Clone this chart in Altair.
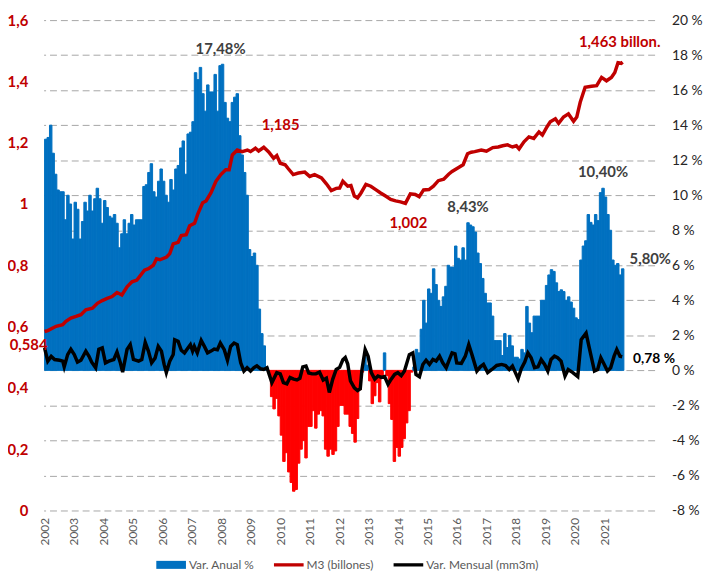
import altair as alt
import pandas as pd

# ---------------- data ----------------
years = list(range(2002, 2022))

# Var. Anual % of M3, monthly from Jan 2002 to Aug 2021
var_anual = [
    # 2002
    13.2, 13.3, 14.0, 12.4, 11.2, 10.3, 10.2, 10.2, 8.6, 10.0, 9.5, 7.5,
    # 2003
    9.6, 9.2, 7.5, 8.5, 9.6, 9.1, 10.0, 9.1, 9.8, 10.4, 9.8, 8.4,
    # 2004
    9.7, 9.3, 8.8, 8.7, 8.9, 8.4, 7.0, 7.8, 8.6, 7.8, 8.4, 8.9,
    # 2005
    8.3, 8.6, 8.6, 8.6, 10.5, 10.6, 11.3, 11.8, 10.2, 9.9, 10.8, 11.5,
    # 2006
    10.8, 10.0, 9.6, 10.9, 10.3, 11.5, 11.7, 12.7, 13.1, 11.2, 13.5, 13.6,
    # 2007
    14.2, 17.0, 16.6, 17.3, 15.8, 14.8, 16.3, 15.9, 15.9, 16.9, 14.8, 17.4,
    # 2008
    17.48, 15.3, 14.4, 14.2, 15.3, 15.6, 15.8, 13.4, 12.3, 11.3, 10.0, 6.9,
    # 2009
    6.5, 6.7, 6.0, 3.5, 2.1, 1.4, 0.2, -0.1, -1.5, -2.2, -1.6, -2.6,
    # 2010
    -3.7, -5.2, -4.7, -5.8, -6.4, -6.9, -6.8, -5.3, -4.5, -4.0, -5.0, -3.2,
    # 2011
    -3.2, -2.3, -3.3, -2.5, -2.3, -2.6, -4.5, -4.9, -4.5, -4.8, -4.6, -3.2,
    # 2012
    -2.0, -2.0, -2.5, -2.5, -3.2, -3.6, -4.1, -2.75, -1.1, -0.1, 0.8, 0.3,
    # 2013
    -0.6, -1.9, -1.45, -0.7, -1.8, -0.4, 1.0, -0.3, -1.9, -2.8, -5.2, -4.4,
    # 2014
    -4.9, -4.4, -3.9, -3.0, -2.3, -0.1, 0.2, 1.2, 1.0, 2.35, 4.0, 2.7,
    # 2015
    4.65, 4.4, 5.8, 4.9, 4.0, 3.65, 4.2, 4.8, 6.0, 5.9, 5.9, 7.1,
    # 2016
    6.4, 6.3, 7.0, 6.3, 8.43, 8.3, 8.2, 7.9, 6.7, 6.1, 5.25, 4.4,
    # 2017
    3.85, 3.85, 3.1, 1.7, 1.7, 1.7, 0.85, 2.1, 1.3, 2.0, 1.4, 0.75,
    # 2018
    0.75, 0.65, 1.2, 1.0, 3.65, 2.7, 2.15, 3.1, 3.1, 3.1, 4.0, 4.0,
    # 2019
    4.85, 5.45, 5.75, 5.65, 5.0, 4.5, 4.6, 4.5, 4.0, 4.2, 3.9, 3.55,
    # 2020
    3.0, 2.9, 6.3, 7.1, 7.4, 8.9, 8.45, 8.3, 8.9, 8.55, 10.15, 10.4,
    # 2021
    9.9, 8.9, 8.0, 6.3, 6.0, 6.1, 5.45, 5.8,
]

# M3 (billones of euros): (months since Jan 2002, value)
m3_points = [
    (0, 0.584), (1.3, 0.587), (4.7, 0.601), (7.4, 0.606), (8.7, 0.617), (10.7, 0.628),
    (12.8, 0.633), (14.8, 0.639), (16.8, 0.655), (19.5, 0.660), (21.5, 0.676), (23.5, 0.685),
    (25.5, 0.692), (27.5, 0.698), (29.5, 0.711), (31.5, 0.703), (33.6, 0.730), (35.6, 0.746),
    (37.6, 0.752), (40.7, 0.784), (42.3, 0.789), (44.3, 0.800), (45.6, 0.821), (47, 0.818),
    (49.7, 0.827), (51, 0.838), (52.4, 0.870), (54.4, 0.875), (55.7, 0.897), (57.7, 0.900),
    (59.1, 0.929), (61.1, 0.937), (62.4, 0.967), (64.4, 1.004), (65.8, 1.010), (67.8, 1.037),
    (69.8, 1.074), (71.8, 1.096), (73.8, 1.112), (75.2, 1.112), (76.5, 1.160), (78.5, 1.176),
    (80.5, 1.171), (82.6, 1.176), (83.9, 1.171), (85.9, 1.182), (87.2, 1.173), (89.3, 1.185),
    (91.3, 1.170), (93.3, 1.149), (94.6, 1.158), (96, 1.133), (98, 1.128), (99.3, 1.115),
    (101.3, 1.096), (103.4, 1.101), (106, 1.104), (108, 1.090), (110, 1.096), (112.8, 1.085),
    (114.8, 1.066), (116.8, 1.044), (118.8, 1.051), (120.2, 1.052), (121.5, 1.074), (123.5, 1.058),
    (124.8, 1.060), (126.2, 1.026), (127.5, 1.020), (128.9, 1.036), (130.9, 1.064), (132.9, 1.058),
    (134.9, 1.047), (136.9, 1.036), (138.9, 1.026), (141, 1.015), (143, 1.010), (145, 1.007),
    (147, 1.002), (149, 1.033), (151, 1.031), (152.6, 1.024), (154.4, 1.046), (156.6, 1.047),
    (158.4, 1.058), (160.4, 1.076), (162.6, 1.081), (164.6, 1.097), (166, 1.106), (168.5, 1.118),
    (170.5, 1.128), (172.3, 1.164), (173.8, 1.169), (175.2, 1.171), (177.9, 1.176), (180, 1.172),
    (182.6, 1.184), (184.8, 1.186), (186.6, 1.190), (188.6, 1.193), (190.6, 1.186), (192.2, 1.190),
    (193.3, 1.180), (195.3, 1.203), (197.3, 1.219), (199.3, 1.214), (201.4, 1.235), (202.8, 1.225),
    (204.7, 1.252), (206, 1.268), (208.1, 1.278), (209.4, 1.263), (211.4, 1.284), (213.4, 1.294),
    (215.5, 1.270), (216.8, 1.284), (218.2, 1.332), (220.2, 1.381), (222.8, 1.384), (224.9, 1.386),
    (226.9, 1.413), (228.9, 1.402), (230.9, 1.413), (232.3, 1.429), (233.6, 1.461), (234.9, 1.459),
    (235.5, 1.463),
]

# Var. Mensual (mm3m) %: (months since Jan 2002, value)
mensual_points = [
    (0, 1.28), (1.3, 0.53), (2.7, 0.8), (4.1, 0.62), (6.1, 0.58), (7.4, 0.53), (8.0, 0.2),
    (9.4, 0.9), (10.7, 1.2), (12.1, 0.9), (13.4, 0.47), (14.8, 0.58), (16.8, 1.1), (18.1, 0.8),
    (19.2, 0.47), (20.8, 0.15), (22.1, 1.2), (23.5, 1.28), (24.8, 0.43), (26.2, 0.53), (28.2, 0.62),
    (29.5, 1.05), (30.8, 0.47), (31.8, -0.1), (33.6, 1.2), (34.9, 1.47), (36.2, 0.62), (38.3, 0.53),
    (39.6, 0.62), (41.0, 1.6), (42.3, 1.1), (43.6, 0.43), (45.0, 0.7), (46.3, 1.37), (47.6, 1.1),
    (48.7, 0.34), (49.6, -0.13), (51.0, 0.53), (52.4, 0.9), (53.0, 1.75), (54.4, 1.66), (55.7, 1.15),
    (57.0, 1.0), (58.4, 1.28), (59.4, 1.47), (60.3, 1.1), (61.0, 1.37), (62.2, 1.0), (63.8, 1.71),
    (65.1, 1.37), (66.4, 1.0), (67.8, 1.1), (69.1, 1.22), (70.4, 1.18), (71.6, 1.56), (73.2, 1.18),
    (74.5, 0.58), (75.8, 1.37), (77.2, 1.56), (78.5, 1.47), (79.9, 0.43), (81.2, -0.04), (82.5, 0.15),
    (83.9, -0.04), (85.2, 0.15), (86.5, 0.26), (88.0, 0.09), (89.3, 0.05), (90.6, 0.15), (92.6, -0.7),
    (94.6, -0.13), (96.0, -0.2), (97.3, -0.7), (98.7, -0.77), (100.0, -0.41), (101.5, -0.5),
    (102.8, -0.55), (104.0, -0.45), (105.2, 0.2), (106.5, 0.25), (107.6, -0.15), (109.0, -0.2),
    (110.5, -0.2), (112.0, -0.1), (113.5, -0.55), (114.8, -0.45), (116.0, -1.26), (117.4, -0.5),
    (118.8, 0.05), (120.2, 0.17), (121.5, 0.6), (122.5, 0.73), (123.5, 0.36), (124.6, -0.6),
    (126.2, -1.0), (127.5, -1.15), (128.6, -1.05), (129.3, 0.05), (130.6, 1.19), (131.8, 0.8),
    (133.1, -0.13), (134.5, -0.5), (135.8, -0.32), (137.2, -0.4), (138.5, -0.35), (139.9, -0.79),
    (141.2, -0.5), (142.6, -0.23), (143.9, -0.13), (145.3, -0.3), (146.6, -0.04), (148.6, 0.9),
    (150.0, 1.0), (151.3, -0.23), (152.7, -0.36), (154.1, 0.34), (155.4, 0.58), (156.8, 0.34),
    (158.2, 0.62), (159.5, 0.53), (160.9, 0.81), (162.2, 0.43), (163.6, 0.15), (164.9, 0.62),
    (166.0, 1.0), (167.2, 0.95), (167.9, 0.43), (169.8, 0.4), (171.4, 0.81), (172.8, 1.47),
    (174.1, 0.9), (176.1, -0.04), (177.5, 0.2), (178.8, 0.34), (180.5, -0.13), (182.2, 0.05),
    (184.2, 0.28), (186.2, 0.34), (187.8, 0.28), (189.3, 0.05), (190.6, 0.25), (192.9, -0.47),
    (194.2, 0.1), (195.6, 0.47), (196.9, 1.0), (198.2, 0.72), (199.6, 0.15), (201.0, 0.2),
    (202.3, 0.62), (203.7, 0.34), (205.0, -0.04), (206.3, 0.62), (207.7, 0.81), (209.0, 0.72),
    (210.4, 0.53), (212.0, -0.32), (213.3, 0.05), (215.2, -0.13), (217.2, -0.36), (218.6, 1.75),
    (220.6, 2.13), (221.9, 1.28), (224.0, -0.04), (225.3, 0.05), (226.6, 0.72), (228.0, 0.34),
    (229.3, -0.04), (230.6, 0.15), (232.0, 0.81), (233.1, 1.19), (234.4, 0.81), (235.3, 0.78),
]

legend_labels = ["Var. Anual %", "M3 (billones)", "Var. Mensual (mm3m)"]
pct_ticks = list(range(-8, 21, 2))
m3_ticks = [0, 0.2, 0.4, 0.6, 0.8, 1.0, 1.2, 1.4, 1.6]

# ---------------- styling ----------------
FONT = "Lato"
BLUE = "#0070C0"
RED_BAR = "#FF0000"
RED_LINE = "#C00000"
GREY_TXT = "#404040"

bars_df = pd.DataFrame({"m": list(range(len(var_anual))), "v": var_anual})
m3_df = pd.DataFrame(m3_points, columns=["m", "v"])
men_df = pd.DataFrame(mensual_points, columns=["m", "v"])

x_scale = alt.Scale(domain=[-0.4, 248.5], nice=False, zero=False)
pct_scale = alt.Scale(domain=[-8, 20], nice=False, zero=False)
m3_scale = alt.Scale(domain=[0, 1.6], nice=False, zero=False)

x_axis = alt.Axis(
    values=[12 * (y - years[0]) for y in years],
    labelExpr=f"'' + ({years[0]} + round(datum.value / 12))",
    labelAngle=270, labelFontSize=12, labelColor="#595959",
    ticks=False, domain=False, grid=False, labelPadding=7, title=None,
)
X = alt.X("m:Q", scale=x_scale, axis=x_axis)

bars = alt.Chart(bars_df).transform_calculate(m2="datum.m + 1").mark_bar(strokeWidth=1).encode(
    x=X,
    x2="m2:Q",
    y=alt.Y("v:Q", scale=pct_scale, axis=alt.Axis(
        orient="right", values=pct_ticks, labelExpr="datum.value + ' %'",
        grid=True, gridDash=[7, 4], gridColor="#A6A6A6", gridWidth=1,
        ticks=False, domain=False, labelFontSize=14, labelColor="#262626",
        labelPadding=17, labelAlign="left", title=None)),
    y2=alt.datum(0),
    color=alt.condition("datum.v >= 0", alt.value(BLUE), alt.value(RED_BAR)),
    stroke=alt.condition("datum.v >= 0", alt.value(BLUE), alt.value(RED_BAR)),
)

m3_line = alt.Chart(m3_df).mark_line(color=RED_LINE, strokeWidth=3.5).encode(
    x=X,
    y=alt.Y("v:Q", scale=m3_scale, axis=alt.Axis(
        orient="left", values=m3_ticks,
        labelExpr="replace(format(datum.value, '.1~f'), '.', ',')",
        labelColor=RED_LINE, labelFontWeight="bold", labelFontSize=15,
        labelPadding=16, ticks=False, domain=False, grid=False, title=None)),
)

men_line = alt.Chart(men_df).mark_line(color="#000000", strokeWidth=3.5).encode(
    x=X,
    y=alt.Y("v:Q", scale=pct_scale, axis=None),
)


def note(m, v, text, scale, color, dx, dy, align="center", size=15):
    df = pd.DataFrame({"m": [m], "v": [v], "t": [text]})
    return alt.Chart(df).mark_text(
        color=color, fontWeight="bold", fontSize=size, align=align,
        baseline="middle", dx=dx, dy=dy,
    ).encode(x=X, y=alt.Y("v:Q", scale=scale, axis=None), text="t:N")


def es(v, d):
    return f"{v:.{d}f}".replace(".", ",")


# anchors taken from the data
i_max = max(range(len(var_anual)), key=lambda i: var_anual[i])
i_16 = max(range(156, 192), key=lambda i: var_anual[i])
i_20 = max(range(216, len(var_anual)), key=lambda i: var_anual[i])
i_last = len(var_anual) - 1
m3_peak = max([p for p in m3_points if p[0] < 110], key=lambda p: p[1])
m3_min = min([p for p in m3_points if 110 < p[0] < 180], key=lambda p: p[1])
m3_first = m3_points[0]
m3_last = m3_points[-1]
men_last = mensual_points[-1]

notes = [
    note(i_max + 0.5, var_anual[i_max], es(var_anual[i_max], 2) + "%", pct_scale, GREY_TXT, -2, -15),
    note(i_16 + 0.5, var_anual[i_16], es(var_anual[i_16], 2) + "%", pct_scale, GREY_TXT, 0, -16),
    note(i_20 + 0.5, var_anual[i_20], es(var_anual[i_20], 2) + "%", pct_scale, GREY_TXT, 0, -16),
    note(i_last + 0.5, var_anual[i_last], es(var_anual[i_last], 2) + "%", pct_scale, GREY_TXT, 7, -10, align="left"),
    note(men_last[0], men_last[1], es(men_last[1], 2) + " %", pct_scale, "#000000", 11, 2, align="left", size=14),
    note(m3_peak[0], m3_peak[1], es(m3_peak[1], 3), m3_scale, RED_LINE, 17, -22),
    note(m3_min[0], m3_min[1], es(m3_min[1], 3), m3_scale, RED_LINE, 3, 20),
    note(m3_last[0], m3_last[1], es(m3_last[1], 3) + " billon.", m3_scale, RED_LINE, -3, -20),
    note(m3_first[0], m3_first[1], es(m3_first[1], 3), m3_scale, RED_LINE, 3, 14, align="right"),
]

RECT = "M-1,-0.27H1V0.27H-1Z"
LINE = "M-1,-0.11H1V0.11H-1Z"
leg = alt.Legend(
    title=None, orient="none", legendX=114, legendY=536, direction="horizontal",
    symbolSize=900, symbolStrokeWidth=0, labelFontSize=12, labelColor="#595959",
    labelOffset=3, columnPadding=20, labelFont=FONT,
)
legend_layer = alt.Chart(pd.DataFrame({"serie": legend_labels})).mark_point(
    filled=True, opacity=1, size=10
).encode(
    x=alt.value(-3000),
    y=alt.value(-3000),
    color=alt.Color("serie:N", scale=alt.Scale(domain=legend_labels, range=[BLUE, RED_LINE, "#000000"]), legend=leg),
    shape=alt.Shape("serie:N", scale=alt.Scale(domain=legend_labels, range=[RECT, LINE, LINE]), legend=leg),
)

chart = alt.layer(
    bars, m3_line, men_line, *notes, legend_layer
).resolve_scale(
    y="independent"
).properties(
    width=618, height=496,
    autosize=alt.AutoSizeParams(type="none"),
    padding={"left": 36, "top": 9, "right": 52, "bottom": 61},
).configure(
    font=FONT
).configure_view(
    stroke=None
)

chart.save("out.html", embed_options={"renderer": "svg", "actions": False})
